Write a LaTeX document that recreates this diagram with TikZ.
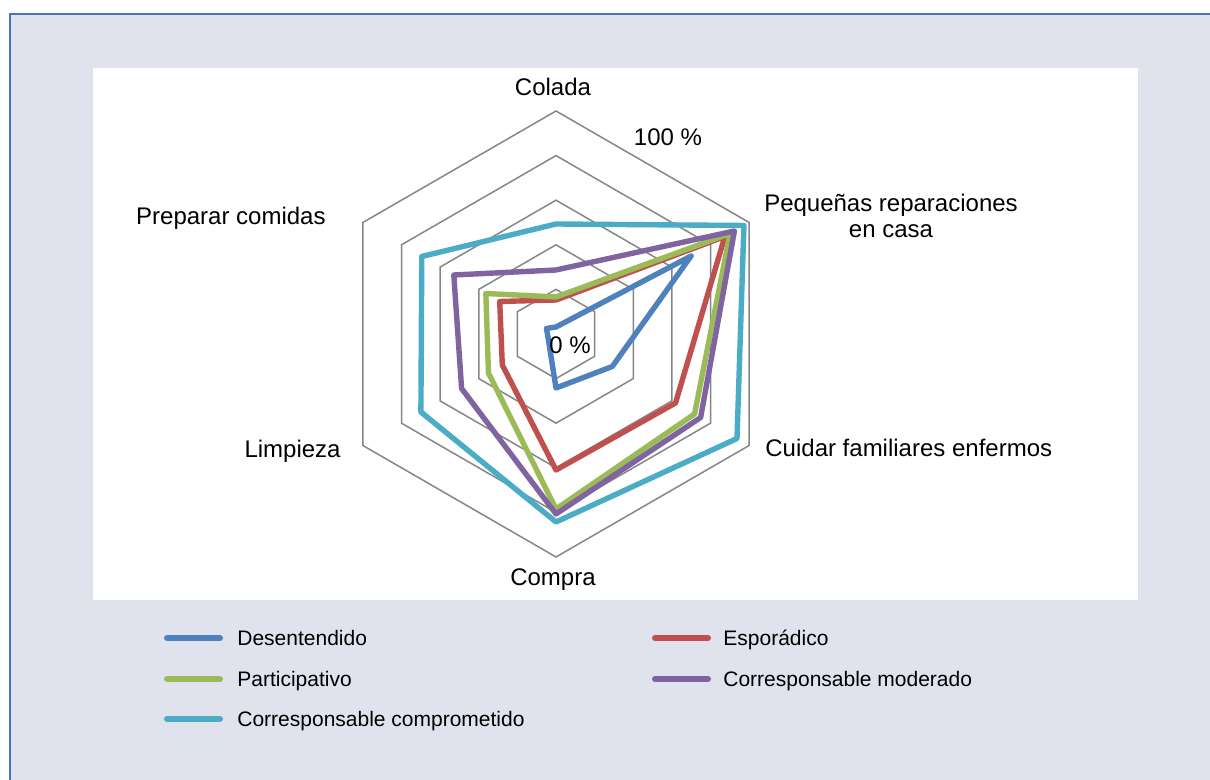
\documentclass[tikz,border=0pt]{standalone}
\usepackage{fontspec}
\setmainfont{Liberation Sans}
\usepackage{tikz}
\usetikzlibrary{positioning}
\definecolor{framefill}{RGB}{224,226,238}
\definecolor{frameline}{RGB}{68,114,196}
\definecolor{ringgray}{RGB}{134,134,134}
\definecolor{desBlue}{RGB}{79,129,189}
\definecolor{espRed}{RGB}{192,80,77}
\definecolor{parGreen}{RGB}{155,187,89}
\definecolor{modPurple}{RGB}{128,100,162}
\definecolor{comCyan}{RGB}{75,172,198}
\tikzstyle{ring} = [draw=ringgray, line width=0.75pt]
\tikzstyle{series} = [line width=2.7pt, line join=round]
\tikzstyle{axislabel} = [inner sep=0pt, text depth=0pt, font=\fontsize{12}{13}\selectfont]
\tikzstyle{legline} = [line width=3pt, line cap=round]
\tikzstyle{legtext} = [inner sep=0pt, text depth=0pt, font=\fontsize{10.5}{12}\selectfont]

\begin{document}
\begin{tikzpicture}[x=0.5pt, y=0.5pt]
    \useasboundingbox (0,0) rectangle (1210,780);
    % background panel and chart area
    \fill [framefill] (10,0) rectangle (1210,766);
    \draw [frameline, line width=1.25pt] (10,0) -- (10,766) -- (1210,766);
    \fill [white] (93,180) rectangle (1138,712);

    \begin{scope}[shift={(556,446)}]
    % grid rings, 20 % apart
    \foreach \r in {44.6,89.2,133.8,178.4,223}
        \draw [ring] (90:\r) -- (30:\r) -- (-30:\r) -- (-90:\r) -- (210:\r) -- (150:\r) -- cycle;

    % one polygon per profile
    \draw [series, desBlue] (90:7) -- (30:156) -- (-30:65) -- (-90:54) -- (210:9) -- (150:11) -- cycle;
    \draw [series, espRed] (90:34) -- (30:195) -- (-30:138) -- (-90:136) -- (210:62) -- (150:65) -- cycle;
    \draw [series, parGreen] (90:37) -- (30:201) -- (-30:160) -- (-90:175) -- (210:78) -- (150:81) -- cycle;
    \draw [series, modPurple] (90:64) -- (30:206) -- (-30:167) -- (-90:180) -- (210:109) -- (150:118) -- cycle;
    \draw [series, comCyan] (90:110) -- (30:217) -- (-30:209) -- (-90:188) -- (210:156) -- (150:155) -- cycle;
    \end{scope}

    \node [axislabel] (colada) at (553,693) {Colada};
    \node [axislabel] (top) at (668,643) {100 \%};
    \node [axislabel, align=center] (reparaciones) at (891,564) {Pequeñas reparaciones\\en casa};
    \node [axislabel, anchor=west] (cuidar) at (765,332) {Cuidar familiares enfermos};
    \node [axislabel] (compra) at (553,203) {Compra};
    \node [axislabel, anchor=east] (limpieza) at (341,331) {Limpieza};
    \node [axislabel, anchor=east] (comidas) at (326,564) {Preparar comidas};
    \node [axislabel] (zero) at (570,435) {0 \%};

    % legend
    \coordinate (desA) at (167,142);
    \coordinate (desB) at (220,142);
    \coordinate (espA) at (655,142);
    \coordinate (espB) at (708,142);
    \coordinate (parA) at (167,101);
    \coordinate (parB) at (220,101);
    \coordinate (modA) at (655,101);
    \coordinate (modB) at (708,101);
    \coordinate (comA) at (167,61);
    \coordinate (comB) at (220,61);

    \draw [legline, desBlue] (desA) -- (desB);
    \draw [legline, espRed] (espA) -- (espB);
    \draw [legline, parGreen] (parA) -- (parB);
    \draw [legline, modPurple] (modA) -- (modB);
    \draw [legline, comCyan] (comA) -- (comB);

    \node [legtext, right=8.5pt of desB] (desText) {Desentendido};
    \node [legtext, right=7.5pt of espB] (espText) {Esporádico};
    \node [legtext, right=8.5pt of parB] (parText) {Participativo};
    \node [legtext, right=7.5pt of modB] (modText) {Corresponsable moderado};
    \node [legtext, right=8.5pt of comB] (comText) {Corresponsable comprometido};
\end{tikzpicture}
\end{document}
